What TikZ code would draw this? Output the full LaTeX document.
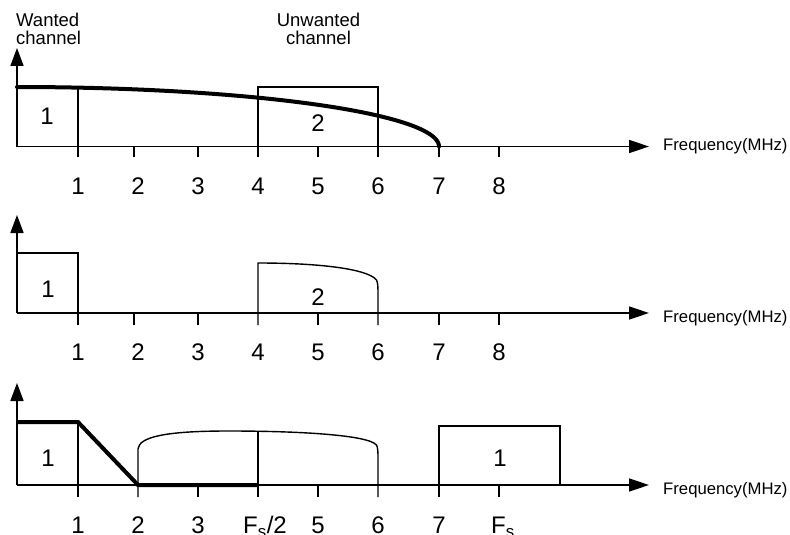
\documentclass[tikz,border=0pt]{standalone}
\usepackage{fontspec}
\setmainfont{Liberation Sans}
\usetikzlibrary{arrows.meta}
\begin{document}
\begin{tikzpicture}[x=1pt,y=-1pt,
  thin line/.style={line width=1.4pt,line join=miter},
  thick line/.style={line width=4pt,line cap=round,line join=miter},
  axisline/.style={line width=1.6pt,-{Triangle[length=20pt,width=13pt]}},
  yaxis/.style={line width=1.6pt,-{Triangle[length=18pt,width=13pt]}},
  numlab/.style={anchor=base,inner sep=0pt,font=\fontsize{24}{24}\selectfont},
  boxlab/.style={anchor=base,inner sep=0pt,font=\fontsize{24}{24}\selectfont},
  freqlab/.style={anchor=west,inner sep=0pt,font=\fontsize{16.7}{16.7}\selectfont},
  headlab/.style={inner sep=0pt,font=\fontsize{18.5}{18}\selectfont}]
\useasboundingbox (0,0) rectangle (790,535);

% ---------- headings ----------
\node[headlab,anchor=base west,align=left] (wanted) at (16,45) {Wanted\\channel};
\node[headlab,anchor=base,align=center] (unwanted) at (318.5,45) {Unwanted\\channel};

% ---------- panel 1 ----------
\coordinate (o1) at (17,146.5);
\coordinate (x1) at (649,146.5);
\coordinate (y1) at (17,48);
\draw[axisline] (o1) -- (x1);
\draw[yaxis] (o1) -- (y1);
\draw[thin line] (17,87) -- (78,87) -- (78,157);
\draw[thin line] (258,157) -- (258,87) -- (378,87) -- (378,157);
\foreach \x in {134,198,318,439,499} \draw[thin line] (\x,146.5) -- (\x,157);
\draw[thick line] plot[smooth,samples=60,domain=0:90,variable=\t] ({17+422*sin(\t)},{146.5-59.5*cos(\t)});
\node[boxlab] (p1b1) at (47,124.3) {1};
\node[boxlab] (p1b2) at (318,131.7) {2};
\node[freqlab] (p1f) at (663,146.5) {Frequency(MHz)};
\foreach \x/\t [count=\i] in {78/1,138/2,198/3,258/4,318/5,378/6,439/7,499/8}
  \node[numlab] (p1n\i) at (\x,194) {\t};

% ---------- panel 2 ----------
\coordinate (o2) at (17,313);
\coordinate (x2) at (649,313);
\coordinate (y2) at (17,215);
\draw[axisline] (o2) -- (x2);
\draw[yaxis] (o2) -- (y2);
\draw[thin line] (17,253) -- (78,253) -- (78,325);
\draw[thin line] (258,325) -- (258,263) .. controls (320,263) and (368,269) .. (376.5,280) .. controls (377.5,282) and (378,285) .. (378,292) -- (378,325);
\foreach \x in {134,198,318,439,499} \draw[thin line] (\x,313) -- (\x,325);
\node[boxlab] (p2b1) at (48,297) {1};
\node[boxlab] (p2b2) at (318,305) {2};
\node[freqlab] (p2f) at (663,318) {Frequency(MHz)};
\foreach \x/\t [count=\i] in {78/1,138/2,198/3,258/4,318/5,378/6,439/7,499/8}
  \node[numlab] (p2n\i) at (\x,360) {\t};

% ---------- panel 3 ----------
\coordinate (o3) at (17,485);
\coordinate (x3) at (649,485);
\coordinate (y3) at (17,383);
\draw[axisline] (o3) -- (x3);
\draw[yaxis] (o3) -- (y3);
\draw[thin line] (78,422) -- (78,497);
\draw[thin line] (138,497) -- (138,449) .. controls (139,437) and (165,431) .. (228,431) .. controls (300,431) and (368,435) .. (376.5,445) .. controls (377.5,447) and (378,450) .. (378,456) -- (378,497);
\draw[thin line] (258,432) -- (258,497);
\foreach \x in {198,318,499} \draw[thin line] (\x,485) -- (\x,497);
\draw[thin line] (439,497) -- (439,426) -- (560,426) -- (560,485);
\draw[thick line,line cap=butt] (17,422) -- (78,422) -- (138,485) -- (258,485);
\node[boxlab] (p3b1) at (48,466.7) {1};
\node[boxlab] (p3b2) at (500,466.7) {1};
\node[freqlab] (p3f) at (663,490.5) {Frequency(MHz)};
\foreach \x/\t [count=\i] in {78/1,138/2,198/3,318/5,378/6,439/7}
  \node[numlab] (p3n\i) at (\x,533.5) {\t};
\node[numlab] (p3fs2) at (265,533.5) {F\textsubscript{s}/2};
\node[numlab] (p3fs) at (503,533.5) {F\textsubscript{s}};
\end{tikzpicture}
\end{document}
